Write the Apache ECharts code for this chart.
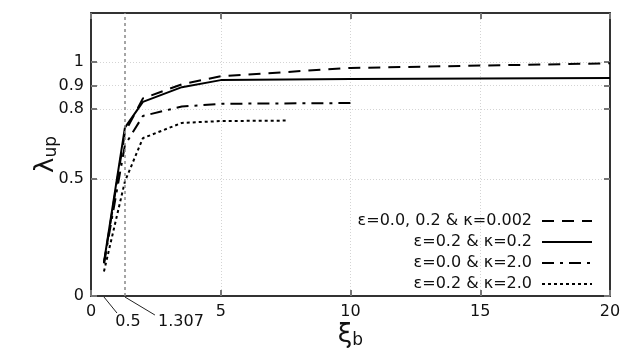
<!DOCTYPE html>
<html>
<head>
<meta charset="utf-8">
<script src="https://cdn.jsdelivr.net/npm/echarts@6/dist/echarts.min.js"></script>
<style>
  html, body { margin: 0; padding: 0; background: #fff; }
  #main { width: 640px; height: 360px; }
</style>
</head>
<body>
<div id="main"></div>
<script>
// curve data
var xsA = [0.5, 1.307, 2, 3.5, 5, 10, 20];
var ysA = [0.14, 0.70, 0.845, 0.905, 0.94, 0.975, 0.995];   // eps=0.0,0.2 & k=0.002
var xsB = [0.5, 1.307, 2, 3.5, 5, 10, 20];
var ysB = [0.145, 0.72, 0.83, 0.893, 0.923, 0.928, 0.932];  // eps=0.2 & k=0.2
var xsC = [0.5, 1.307, 2, 3.5, 5, 10];
var ysC = [0.14, 0.645, 0.77, 0.81, 0.822, 0.825];          // eps=0.0 & k=2.0
var xsD = [0.5, 1.307, 2, 3.5, 5, 7.5];
var ysD = [0.105, 0.49, 0.675, 0.74, 0.748, 0.75];          // eps=0.2 & k=2.0

var names = ['ε=0.0, 0.2 & κ=0.002', 'ε=0.2 & κ=0.2', 'ε=0.0 & κ=2.0', 'ε=0.2 & κ=2.0'];
var yTicks = [0, 0.5, 0.8, 0.9, 1];
var extraX = [0.5, 1.307];   // labels with leader lines
var markX = 1.307;

function pairs(xs, ys) {
  return xs.map(function (x, i) { return [x, ys[i]]; });
}

var dom = document.getElementById('main');
var myChart = echarts.init(dom, null, { renderer: 'canvas' });

var font = 'DejaVu Sans, sans-serif';
var gridLine = { show: true, lineStyle: { color: '#d4d4d4', type: [1, 2], width: 1 } };
var axLine = { show: true, onZero: false, lineStyle: { color: '#333', width: 2 } };
var tickIn = { show: true, inside: true, length: 6, lineStyle: { color: '#777', width: 2 } };

function lineSeries(i, data, type) {
  return {
    name: names[i],
    type: 'line',
    data: data,
    symbol: 'none',
    showSymbol: false,
    silent: true,
    animation: false,
    lineStyle: { color: '#000', width: 2, type: type },
    itemStyle: { color: '#000' }
  };
}

var series = [
  lineSeries(0, pairs(xsA, ysA), [12, 8]),
  lineSeries(1, pairs(xsB, ysB), 'solid'),
  lineSeries(2, pairs(xsC, ysC), [12, 6, 3, 6]),
  lineSeries(3, pairs(xsD, ysD), [3, 3])
];
series[0].markLine = {
  silent: true,
  symbol: 'none',
  label: { show: false },
  lineStyle: { color: '#888', type: [3, 3], width: 1.5 },
  data: [{ xAxis: markX }]
};

var option = {
  animation: false,
  textStyle: { fontFamily: font },
  grid: { left: 91, right: 30, top: 13, bottom: 64 },
  legend: {
    orient: 'vertical',
    right: 47,
    top: 213,
    padding: 0,
    align: 'right',
    itemWidth: 50,
    itemHeight: 14,
    itemGap: 5,
    itemStyle: { opacity: 0 },
    textStyle: { fontSize: 16, color: '#111', fontFamily: font, lineHeight: 16, padding: [0, 5, 0, 0] },
    data: names
  },
  xAxis: [{
    type: 'value',
    min: 0, max: 20, interval: 5,
    name: '{a|ξ}{b|b}',
    nameLocation: 'middle',
    nameGap: 26,
    nameMoveOverlap: false,
    nameTextStyle: {
      rich: {
        a: { fontSize: 26, color: '#111', fontFamily: font },
        b: { fontSize: 17, color: '#111', fontFamily: font, padding: [10, 0, 0, 0] }
      }
    },
    axisLine: axLine,
    axisTick: tickIn,
    axisLabel: { fontSize: 16, color: '#111', margin: 8 },
    splitLine: gridLine
  }, {
    type: 'value',
    position: 'top',
    min: 0, max: 20, interval: 5,
    axisLine: axLine,
    axisTick: tickIn,
    axisLabel: { show: false },
    splitLine: { show: false }
  }],
  yAxis: [{
    type: 'value',
    min: 0, max: 1.21,
    name: '{a|λ}{b|up}',
    nameLocation: 'middle',
    nameGap: 31,
    nameMoveOverlap: false,
    nameRotate: 90,
    nameTextStyle: {
      rich: {
        a: { fontSize: 26, color: '#111', fontFamily: font },
        b: { fontSize: 17, color: '#111', fontFamily: font, padding: [10, 0, 0, 0] }
      }
    },
    axisLine: axLine,
    axisTick: Object.assign({ customValues: yTicks }, tickIn),
    axisLabel: { customValues: yTicks, fontSize: 16, color: '#111', margin: 7 },
    splitLine: gridLine
  }, {
    type: 'value',
    position: 'right',
    min: 0, max: 1.21,
    axisLine: axLine,
    axisTick: Object.assign({ customValues: yTicks }, tickIn),
    axisLabel: { show: false },
    splitLine: { show: false }
  }],
  series: series
};

if (option && typeof option === 'object') {
  myChart.setOption(option);
}

// extra tick labels 0.5 and 1.307 hang below the axis on short leader lines
var offsets = [[13, 17, 24, 26], [30, 19, 56, 26]];
var g = [];
extraX.forEach(function (v, i) {
  var p = myChart.convertToPixel({ xAxisIndex: 0, yAxisIndex: 0 }, [v, 0]);
  var o = offsets[i];
  g.push({
    type: 'line',
    silent: true,
    shape: { x1: p[0], y1: p[1] + 1, x2: p[0] + o[0], y2: p[1] + o[1] },
    style: { stroke: '#222', lineWidth: 1 }
  });
  g.push({
    type: 'text',
    silent: true,
    x: p[0] + o[2],
    y: p[1] + o[3],
    style: {
      text: String(v), fontSize: 16, fill: '#111', fontFamily: font,
      align: 'center', verticalAlign: 'middle'
    }
  });
});
myChart.setOption({ graphic: g });

window.addEventListener('resize', myChart.resize);
</script>
</body>
</html>
